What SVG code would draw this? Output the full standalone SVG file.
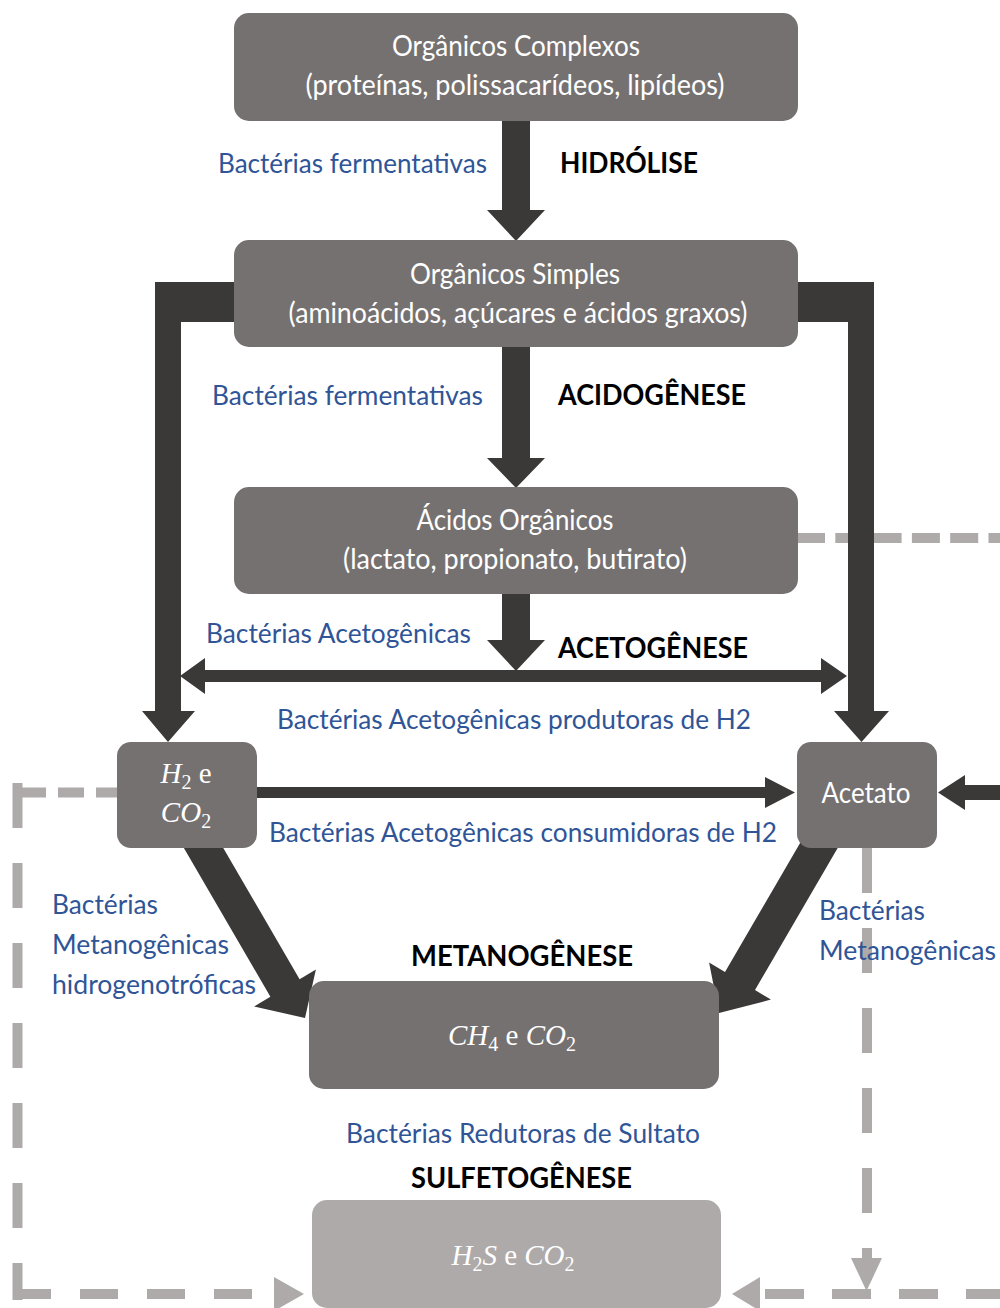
<svg xmlns="http://www.w3.org/2000/svg" width="1000" height="1308" viewBox="0 0 1000 1308">
<style>
.box{fill:#767171}
.box2{fill:#aeaaaa}
.dk{fill:#3b3838}
.wt{font-family:Lato,"Liberation Sans",sans-serif;font-size:28px;fill:#ffffff;text-anchor:middle}
.bl{font-family:Lato,"Liberation Sans",sans-serif;font-size:27px;fill:#2f5597}
.bd{font-family:Lato,"Liberation Sans",sans-serif;font-size:28px;font-weight:bold;fill:#000000}
.mt{font-family:"Liberation Serif","DejaVu Serif",serif;font-size:29px;fill:#ffffff;text-anchor:middle}
.it{font-style:italic}
.dash{fill:none;stroke:#aeaaaa;stroke-width:10}
.dhd{fill:#aeaaaa}
</style>
<rect width="1000" height="1308" fill="#ffffff"/>
<g id="connectors">
  <!-- dashed gray lines -->
  <path class="dash" d="M797,538 H1000" stroke-dasharray="28 10.3"/>
  <path class="dash" d="M122,792.5 H13" stroke-dasharray="26 12"/>
  <path class="dash" d="M17.5,783 V1300" stroke-dasharray="45 35"/>
  <path class="dash" d="M13,1294 H270" stroke-dasharray="38 29"/>
  <polygon class="dhd" points="274,1277 304,1294 274,1311"/>
  <path class="dash" d="M765,1294 H1005" stroke-dasharray="39 28"/>
  <polygon class="dhd" points="760,1277 732,1294 760,1311"/>
  <path class="dash" d="M867,848 V1258" stroke-dasharray="45 35"/>
  <polygon class="dhd" points="851,1258 882,1258 866.5,1291"/>
  <!-- dark arrows -->
  <polygon class="dk" points="502,118 530,118 530,210 545,210 516,241 487,210 502,210"/>
  <polygon class="dk" points="502,345 530,345 530,458 545,458 516,488 487,458 502,458"/>
  <polygon class="dk" points="502,592 530,592 530,640 545,640 516,671 487,640 502,640"/>
  <polygon class="dk" points="180,676 205,658 205,670 821,670 821,658 847,676 821,694 821,682 205,682 205,694"/>
  <polygon class="dk" points="236,282 155,282 155,711 142,711 168,742 195,711 181,711 181,322 236,322"/>
  <polygon class="dk" points="796,282 874,282 874,711 889,711 861.5,742 834,711 848,711 848,322 796,322"/>
  <polygon class="dk" points="255,787 765,787 765,777 795,792.5 765,808 765,798 255,798"/>
  <polygon class="dk" points="1000,785 965,785 965,775 938,792.5 965,810 965,800 1000,800"/>
  <polygon class="dk" points="181.4,843.8 210.6,826.2 299.6,979.2 315.9,969.5 305,1018 254.1,1006.5 270.4,996.8"/>
  <polygon class="dk" points="840,844 810,826 725,972 709.1,962.4 719,1013 770.9,999.6 755,990"/>
</g>
<g id="n1"><rect class="box" x="234" y="13" width="564" height="108" rx="15"/>
  <text class="wt" x="516" y="56" textLength="248" lengthAdjust="spacingAndGlyphs">Orgânicos Complexos</text>
  <text class="wt" x="515" y="95" textLength="419" lengthAdjust="spacingAndGlyphs">(proteínas, polissacarídeos, lipídeos)</text></g>
<g id="n2"><rect class="box" x="234" y="240" width="564" height="107" rx="15"/>
  <text class="wt" x="515" y="284" textLength="210" lengthAdjust="spacingAndGlyphs">Orgânicos Simples</text>
  <text class="wt" x="518" y="323" textLength="459" lengthAdjust="spacingAndGlyphs">(aminoácidos, açúcares e ácidos graxos)</text></g>
<g id="n3"><rect class="box" x="234" y="487" width="564" height="107" rx="15"/>
  <text class="wt" x="515" y="530" textLength="197" lengthAdjust="spacingAndGlyphs">Ácidos Orgânicos</text>
  <text class="wt" x="515" y="569" textLength="344" lengthAdjust="spacingAndGlyphs">(lactato, propionato, butirato)</text></g>
<g id="n4"><rect class="box" x="117" y="742" width="140" height="106" rx="14"/>
  <text class="mt" x="186" y="783"><tspan class="it">H</tspan><tspan font-size="20" dy="6">2</tspan><tspan dy="-6"> e</tspan></text>
  <text class="mt" x="186" y="822"><tspan class="it">CO</tspan><tspan font-size="20" dy="6">2</tspan></text></g>
<g id="n5"><rect class="box" x="797" y="742" width="140" height="106" rx="14"/>
  <text class="wt" x="866" y="803" textLength="89" lengthAdjust="spacingAndGlyphs">Acetato</text></g>
<g id="n6"><rect class="box" x="309" y="981" width="410" height="108" rx="15"/>
  <text class="mt" x="512" y="1045"><tspan class="it">CH</tspan><tspan font-size="20" dy="6">4</tspan><tspan dy="-6"> e </tspan><tspan class="it">CO</tspan><tspan font-size="20" dy="6">2</tspan></text></g>
<g id="n7"><rect class="box2" x="312" y="1200" width="409" height="108" rx="15"/>
  <text class="mt" x="513" y="1265"><tspan class="it">H</tspan><tspan font-size="20" dy="6">2</tspan><tspan class="it" dy="-6">S</tspan><tspan> e </tspan><tspan class="it">CO</tspan><tspan font-size="20" dy="6">2</tspan></text></g>
<g id="labels">
  <text class="bl" x="218" y="173" textLength="269" lengthAdjust="spacingAndGlyphs">Bactérias fermentativas</text>
  <text class="bd" x="560" y="173" textLength="138" lengthAdjust="spacingAndGlyphs">HIDRÓLISE</text>
  <text class="bl" x="212" y="405" textLength="271" lengthAdjust="spacingAndGlyphs">Bactérias fermentativas</text>
  <text class="bd" x="558" y="405" textLength="188" lengthAdjust="spacingAndGlyphs">ACIDOGÊNESE</text>
  <text class="bl" x="206" y="643" textLength="265" lengthAdjust="spacingAndGlyphs">Bactérias Acetogênicas</text>
  <text class="bd" x="558" y="658" textLength="190" lengthAdjust="spacingAndGlyphs">ACETOGÊNESE</text>
  <text class="bl" x="277" y="729" textLength="474" lengthAdjust="spacingAndGlyphs">Bactérias Acetogênicas produtoras de H2</text>
  <text class="bl" x="269" y="842" textLength="508" lengthAdjust="spacingAndGlyphs">Bactérias Acetogênicas consumidoras de H2</text>
  <text class="bl" x="52" y="914" textLength="106" lengthAdjust="spacingAndGlyphs">Bactérias</text>
  <text class="bl" x="52" y="954" textLength="177" lengthAdjust="spacingAndGlyphs">Metanogênicas</text>
  <text class="bl" x="52" y="994" textLength="204" lengthAdjust="spacingAndGlyphs">hidrogenotróficas</text>
  <text class="bl" x="819" y="920" textLength="106" lengthAdjust="spacingAndGlyphs">Bactérias</text>
  <text class="bl" x="819" y="960" textLength="177" lengthAdjust="spacingAndGlyphs">Metanogênicas</text>
  <text class="bd" x="411" y="966" textLength="222" lengthAdjust="spacingAndGlyphs">METANOGÊNESE</text>
  <text class="bl" x="346" y="1143" textLength="354" lengthAdjust="spacingAndGlyphs">Bactérias Redutoras de Sultato</text>
  <text class="bd" x="411" y="1188" textLength="221" lengthAdjust="spacingAndGlyphs">SULFETOGÊNESE</text>
</g>
</svg>
